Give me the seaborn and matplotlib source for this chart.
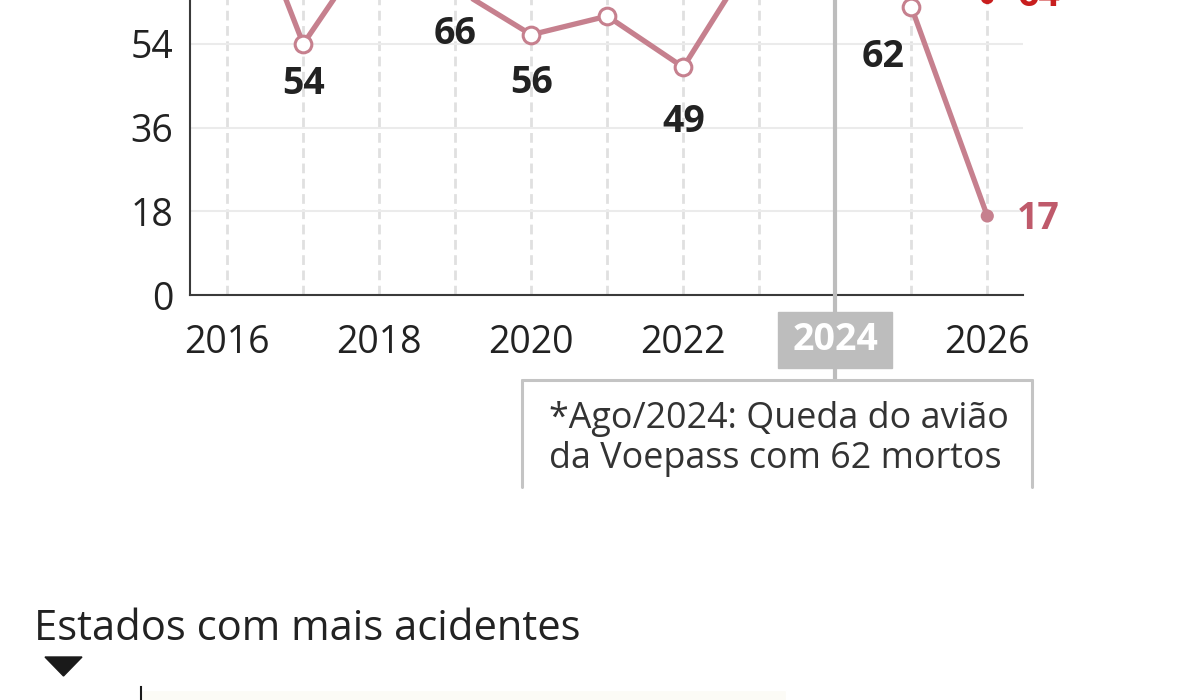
import matplotlib
matplotlib.use("Agg")
import matplotlib.pyplot as plt
import matplotlib.transforms as mtransforms
from matplotlib.patches import Rectangle, Polygon
from matplotlib.lines import Line2D
import seaborn as sns
import pandas as pd

# dados (os que ficam fora do recorte são estimados)
anos = [2016, 2017, 2018, 2019, 2020, 2021, 2022, 2023, 2024, 2025, 2026]
mortes = [96, 54, 78, 66, 56, 60, 49, 75, 152, 62, 17]
acidentes = [137, 150, 124, 153, 134, 144, 153, 157, 175, 160, 64]
anos_rotulo = [2016, 2018, 2020, 2022, 2024, 2026]
y_ticks = [0, 18, 36, 54, 72, 90, 108, 126, 144, 162, 180, 198]
nota = ["*Ago/2024: Queda do avião", "da Voepass com 62 mortos"]
titulo_estados = "Estados com mais acidentes"
estados = ["SP"]
acidentes_estado = [88]

# cores
ROSA = "#c6808e"
ROSA_TXT = "#bf5a6b"
VERMELHO = "#c81e1e"
CINZA = "#bdbdbd"
TXT = "#222222"

W, H = 1200, 700
sns.set_theme(style="white")
plt.rcParams["font.family"] = ["Open Sans", "DejaVu Sans"]


def fx(p):
    return p / W


def fy(p):
    return 1 - p / H


# eixo do gráfico de linhas (topo fica fora do recorte)
AX_L, AX_R, AX_B = 190, 1023, 295
PX_UN = 251 / 54
ax_h = y_ticks[-1] * PX_UN

fig = plt.figure(figsize=(12, 7), dpi=100)
ax = fig.add_axes([fx(AX_L), fy(AX_B), (AX_R - AX_L) / W, ax_h / H])


def ay(p):
    # pixel da figura -> fração do eixo (vertical)
    return (AX_B - p) / ax_h


df = pd.DataFrame({"ano": anos, "mortes": mortes, "acidentes": acidentes})

sns.lineplot(data=df, x="ano", y="acidentes", ax=ax, color=VERMELHO, lw=3.6, zorder=4)
sns.scatterplot(x=[anos[-1]], y=[acidentes[-1]], ax=ax, color=VERMELHO, s=90,
                edgecolor="none", zorder=6)

sns.lineplot(data=df, x="ano", y="mortes", ax=ax, color=ROSA, lw=3.8, zorder=5,
             marker="o", markersize=12, markerfacecolor="white", markeredgecolor=ROSA,
             markeredgewidth=2.2, markevery=list(range(len(anos) - 1)))
sns.scatterplot(x=[anos[-1]], y=[mortes[-1]], ax=ax, color=ROSA, s=90,
                edgecolor="none", zorder=6)

ax.set_xlim(2015.51, 2026.47)
ax.set_ylim(0, y_ticks[-1])
ax.set_xticks(anos)
ax.set_xticklabels([str(a) if (a in anos_rotulo and a != 2024) else "" for a in anos])
ax.set_yticks(y_ticks)
ax.set_xlabel("")
ax.set_ylabel("")
ax.tick_params(axis="both", length=0, labelsize=27, colors=TXT)
ax.tick_params(axis="x", pad=21)
ax.tick_params(axis="y", pad=12)
ax.grid(axis="x", color="#e0e0e0", lw=2, ls=(0, (3.5, 2)))
ax.grid(axis="y", color="#ebebeb", lw=1.5)
ax.set_axisbelow(True)
for s in ["top", "right"]:
    ax.spines[s].set_visible(False)
for s in ["left", "bottom"]:
    ax.spines[s].set_color("#3a3a3a")
    ax.spines[s].set_linewidth(1.5)
if ax.get_legend():
    ax.get_legend().remove()

# rótulos dos pontos (deslocamento do centro em px)
desloc = {2016: (0, 42), 2017: (0, -36), 2018: (0, 42), 2019: (0, -42),
          2020: (0, -45), 2021: (0, 42), 2022: (0, -51), 2023: (0, 42),
          2024: (0, 42), 2025: (-28, -47)}
for a, v in zip(anos[:-1], mortes[:-1]):
    dx, dy = desloc[a]
    ax.annotate(str(v), (a, v), xytext=(dx, dy - 13.5), textcoords="offset pixels",
                ha="center", va="baseline", fontsize=27, fontweight="bold", color=TXT,
                zorder=7)
ax.annotate(str(mortes[-1]), (anos[-1], mortes[-1]), xytext=(30, -13.5),
            textcoords="offset pixels", ha="left", va="baseline", fontsize=27,
            fontweight="bold", color=ROSA_TXT, annotation_clip=False)
ax.annotate(str(acidentes[-1]), (anos[-1], acidentes[-1]), xytext=(30, -8.5),
            textcoords="offset pixels", ha="left", va="baseline", fontsize=27,
            fontweight="bold", color=VERMELHO, annotation_clip=False)

# linha de 2024 e selo no eixo
trans = mtransforms.blended_transform_factory(ax.transData, ax.transAxes)
ax.axvline(2024, ymin=ay(380), ymax=1, color=CINZA, lw=3, clip_on=False, zorder=3)
ax.add_patch(Rectangle((2024 - 0.76, ay(368)), 1.51, ay(312) - ay(368), transform=trans,
                       color=CINZA, clip_on=False, zorder=8))
ax.text(2024, ay(340), "2024", transform=trans, ha="center", va="center",
        fontsize=27, fontweight="bold", color="white", zorder=9)

# nota
for xs, ys in [([522, 1032], [380, 380]), ([522, 522], [380, 487]),
               ([1032, 1032], [380, 487])]:
    fig.add_artist(Line2D([fx(x) for x in xs], [fy(y) for y in ys], color="#c4c4c4", lw=2.2))
fig.text(fx(549), fy(419), nota[0], ha="left", va="center", fontsize=25.8, color="#333333")
fig.text(fx(549), fy(459), nota[1], ha="left", va="center", fontsize=25.8, color="#333333")

# próximo gráfico: estados
fig.text(fx(34), fy(629), titulo_estados, ha="left", va="center", fontsize=30, color=TXT)
fig.add_artist(Polygon([[fx(45), fy(657)], [fx(82), fy(657)], [fx(63.5), fy(676)]],
                       closed=True, color="#1a1a1a"))

ax2 = fig.add_axes([fx(141), fy(1000), fx(880), (1000 - 687) / H])
sns.barplot(x=acidentes_estado, y=estados, ax=ax2, color="#fdfcf5", orient="h", width=0.9)
ax2.set_xlim(0, 120)
ax2.set_ylim(7.5, -0.52)
ax2.set_xticks([])
ax2.set_yticks([])
for s in ["top", "right", "bottom"]:
    ax2.spines[s].set_visible(False)
ax2.spines["left"].set_color("#1a1a1a")
ax2.spines["left"].set_linewidth(1.5)

fig.savefig("out.png", dpi=100)
